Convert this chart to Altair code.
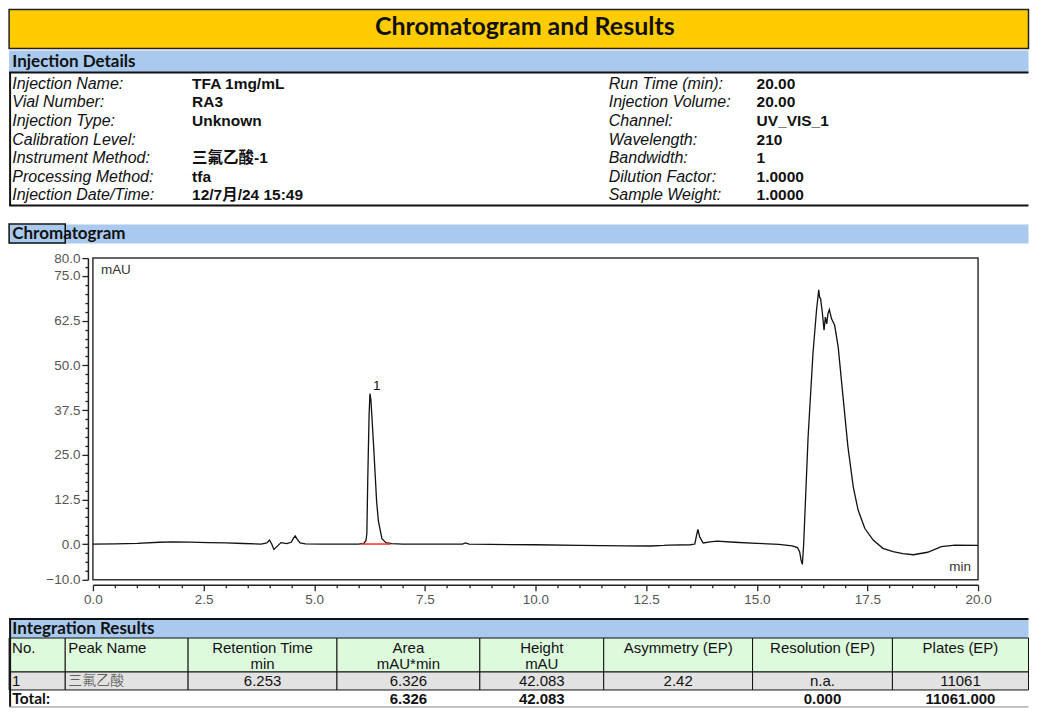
import altair as alt
import pandas as pd

# ---------------- data ----------------
report_title = "Chromatogram and Results"
section_titles = ["Injection Details", "Chromatogram", "Integration Results"]

detail_labels_left = ["Injection Name:", "Vial Number:", "Injection Type:", "Calibration Level:",
                      "Instrument Method:", "Processing Method:", "Injection Date/Time:"]
detail_values_left = ["TFA 1mg/mL", "RA3", "Unknown", "", "三氟乙酸-1", "tfa", "12/7月/24 15:49"]
detail_labels_right = ["Run Time (min):", "Injection Volume:", "Channel:", "Wavelength:",
                       "Bandwidth:", "Dilution Factor:", "Sample Weight:"]
detail_values_right = ["20.00", "20.00", "UV_VIS_1", "210", "1", "1.0000", "1.0000"]

time_min = [0.0, 0.5, 1.0, 1.5, 1.8, 2.2, 2.6, 3.0, 3.4, 3.8, 3.93, 3.99, 4.04, 4.09, 4.15,
            4.25, 4.38, 4.48, 4.53, 4.57, 4.62, 4.68, 4.8, 5.2, 5.6, 6.0, 6.12, 6.17, 6.19,
            6.21, 6.24, 6.26, 6.28, 6.30, 6.34, 6.375, 6.41, 6.45, 6.53, 6.62, 6.75, 7.0,
            7.5, 8.0, 8.35, 8.42, 8.5, 9.0, 10.0, 11.0, 12.0, 12.6, 12.9, 13.0, 13.5, 13.6,
            13.64, 13.67, 13.71, 13.79, 13.95, 14.1, 14.5, 15.0, 15.5, 15.8, 15.92, 15.97,
            16.0, 16.03, 16.06, 16.16, 16.27, 16.35, 16.40, 16.42, 16.44, 16.48, 16.52,
            16.55, 16.58, 16.61, 16.64, 16.69, 16.76, 16.84, 16.95, 17.06, 17.18, 17.29,
            17.44, 17.63, 17.85, 18.08, 18.3, 18.54, 18.86, 19.17, 19.48, 20.0]
signal_mau = [0.0, 0.05, 0.2, 0.5, 0.6, 0.55, 0.4, 0.3, 0.15, 0.0, 0.3, 1.1, 0.0, -1.5, -0.8,
              0.4, 0.1, 0.5, 1.6, 2.3, 1.3, 0.3, 0.05, 0.0, 0.0, 0.0, 0.2, 1.0, 3.0,
              18.0, 36.0, 42.1, 40.5, 36.5, 28.0, 20.0, 12.0, 6.5, 1.5, 0.4, 0.1, 0.0,
              0.0, -0.05, 0.0, 0.3, 0.0, -0.1, -0.2, -0.35, -0.5, -0.55, -0.4, -0.3, -0.2, 0.0,
              2.5, 4.1, 2.0, 0.3, 0.6, 0.8, 0.5, 0.2, -0.1, -0.5, -1.0, -2.2,
              -4.5, -5.7, 0.0, 30.0, 53.3, 65.4, 71.1, 69.0, 68.8, 65.0, 59.8,
              63.5, 61.6, 64.5, 65.6, 63.0, 61.2, 55.1, 41.1, 27.2, 16.0, 9.5,
              4.4, 1.1, -1.2, -2.1, -2.7, -3.0, -2.3, -0.7, -0.3, -0.4]

peak_labels = ["1"]
peak_rt = [6.253]
peak_height = [42.083]
peak_base_start = [6.06]
peak_base_end = [6.73]
peak_base_level = [0.0]

x_tick_values = [i * 0.5 for i in range(41)]
y_tick_values = [-10 + i * 2.5 for i in range(37)]

table_headers = ["No.", "Peak Name", "Retention Time\nmin", "Area\nmAU*min", "Height\nmAU",
                 "Asymmetry (EP)", "Resolution (EP)", "Plates (EP)"]
row_no = ["1"]
row_name = ["三氟乙酸"]
row_rt = [6.253]
row_area = [6.326]
row_height = [42.083]
row_asym = [2.42]
row_resolution = ["n.a."]
row_plates = [11061]
total_label = "Total:"
total_area = 6.326
total_height = 42.083
total_resolution = 0.000
total_plates = 11061.000

# ---------------- layout (page pixels, converted to plot-relative) ----------------
X0, Y0 = 92.7, 257.7
PW, PH = 886, 322
L, R = 8.8, 1029.2
BLUE = "#A9C9EE"
YELLOW = "#FFCC00"
GREEN = "#DDFADD"
GREY = "#E2E2E2"


def X(v):
    return v - X0


def Y(v):
    return v - Y0


cb = [L, 65, 188, 337, 480, 604, 753, 893, R]
BAND_T = 619
HDR_T, HDR_B = 638, 672
ROW_B = 690
TOT_B = 707

rects = []


def add_rect(x1, y1, x2, y2, fill, stroke="transparent", sw=0.0):
    rects.append(dict(x=X(x1), x2=X(x2), y=Y(y1), y2=Y(y2), fill=fill, stroke=stroke, sw=sw))


add_rect(L, 8.8, R, 48, YELLOW, "#222222", 1.5)
add_rect(L, 50, R, 72, BLUE)
add_rect(L, 224, R, 243, BLUE)
add_rect(L, 223.5, 65, 242.5, "transparent", "#111111", 1.5)
add_rect(L, BAND_T, R, HDR_T, BLUE)
for i in range(8):
    add_rect(cb[i], HDR_T, cb[i + 1], HDR_B, GREEN, "#111111", 1.0)
    add_rect(cb[i], HDR_B, cb[i + 1], ROW_B, GREY, "#111111", 1.0)
rect_df = pd.DataFrame(rects)

rules = []


def add_rule(x1, y1, x2, y2, color, sw):
    rules.append(dict(x=X(x1), x2=X(x2), y=Y(y1), y2=Y(y2), color=color, sw=sw))


add_rule(L, 72, R, 72, "#111111", 2)
add_rule(L + 1, 72, L + 1, 205, "#111111", 2)
add_rule(L, 205, R, 205, "#111111", 2)
add_rule(L, BAND_T, R, BAND_T, "#111111", 2)
add_rule(L + 1, BAND_T, L + 1, TOT_B, "#111111", 2)
add_rule(L, TOT_B, R, TOT_B, "#888888", 1)
rule_df = pd.DataFrame(rules)

px = alt.X("x:Q", scale=None, axis=None)
py = alt.Y("y:Q", scale=None, axis=None)


def text_layer(rows, **kw):
    df = pd.DataFrame(rows, columns=["x", "y", "text"])
    return alt.Chart(df).mark_text(baseline="middle", **kw).encode(x=px, y=py, text="text:N")


# ---------------- chromatogram ----------------
trace_df = pd.DataFrame({"t": time_min, "v": signal_mau})
x_axis = alt.Axis(
    values=x_tick_values, title=None, grid=False, offset=5,
    labelExpr="datum.value % 2.5 == 0 ? format(datum.value, '.1f') : ''",
    labelOverlap=False, labelFlush=False, labelFont="Liberation Sans", labelFontSize=13.5,
    labelColor="#555", labelPadding=2,
    tickSize={"condition": {"test": "datum.value % 2.5 == 0", "value": 6}, "value": 3},
    tickColor="#222", tickWidth=1.3, domainColor="#222", domainWidth=1.5,
)
y_axis = alt.Axis(
    values=y_tick_values, title=None, grid=False, offset=5,
    labelExpr="(datum.value % 12.5 == 0 || datum.value == -10 || datum.value == 80) ? format(datum.value, '.1f') : ''",
    labelOverlap=False, labelFlush=False, labelFont="Liberation Sans", labelFontSize=13.5,
    labelColor="#555", labelPadding=2,
    tickSize={"condition": {"test": "datum.value % 12.5 == 0 || datum.value == -10 || datum.value == 80", "value": 6}, "value": 3},
    tickColor="#222", tickWidth=1.3, domainColor="#222", domainWidth=1.5,
)
xs = alt.Scale(domain=[0, 20], nice=False, zero=False)
ys = alt.Scale(domain=[-10, 80], nice=False, zero=False)
cx = lambda f: alt.X(f, scale=xs, axis=x_axis)
cy = lambda f: alt.Y(f, scale=ys, axis=y_axis)

line = alt.Chart(trace_df).mark_line(color="#111", strokeWidth=1.3).encode(
    x=cx("t:Q"), y=cy("v:Q"))

base_df = pd.DataFrame({"s": peak_base_start, "e": peak_base_end, "b": peak_base_level})
baseline = alt.Chart(base_df).mark_rule(color="#FF2A2A", strokeWidth=1.5).encode(
    x=cx("s:Q"), x2="e:Q", y=cy("b:Q"))

lab_df = pd.DataFrame({"t": peak_rt, "v": peak_height, "label": peak_labels})
peak_lab = alt.Chart(lab_df).mark_text(dx=7, dy=-8, font="Liberation Sans", fontSize=13.5,
                                       color="#111").encode(
    x=cx("t:Q"), y=cy("v:Q"), text="label:N")

unit_df = pd.DataFrame({"text": ["mAU"]})
mau = alt.Chart(unit_df).mark_text(align="left", baseline="middle", font="Liberation Sans",
                                   fontSize=13.5, color="#333").encode(
    x=alt.value(8), y=alt.value(12), text="text:N")
min_df = pd.DataFrame({"text": ["min"]})
mint = alt.Chart(min_df).mark_text(align="right", baseline="middle", font="Liberation Sans",
                                   fontSize=13.5, color="#333").encode(
    x=alt.value(PW - 7), y=alt.value(PH - 13), text="text:N")

layers = [line, baseline, peak_lab, mau, mint]

# ---------------- report frame ----------------
layers.append(
    alt.Chart(rect_df).mark_rect().encode(
        x=px, x2="x2:Q", y=py, y2="y2:Q",
        fill=alt.Fill("fill:N", scale=None),
        stroke=alt.Stroke("stroke:N", scale=None),
        strokeWidth=alt.StrokeWidth("sw:Q", scale=None),
    )
)
layers.append(
    alt.Chart(rule_df).mark_rule().encode(
        x=px, x2="x2:Q", y=py, y2="y2:Q",
        color=alt.Color("color:N", scale=None),
        strokeWidth=alt.StrokeWidth("sw:Q", scale=None),
    )
)

layers.append(text_layer([(X(525), Y(26), report_title)],
                         align="center", font="Lato", fontSize=25, fontWeight="bold", color="#111"))
sec_y = [61.5, 234, (BAND_T + HDR_T) / 2 + 0.5]
layers.append(text_layer([(X(12), Y(sec_y[i]), s) for i, s in enumerate(section_titles)],
                         align="left", font="Lato", fontSize=17, fontWeight="bold", color="#111"))

row_y = [83 + i * 18.67 for i in range(7)]
layers.append(text_layer([(X(12), Y(row_y[i]), s) for i, s in enumerate(detail_labels_left)]
                         + [(X(609), Y(row_y[i]), s) for i, s in enumerate(detail_labels_right)],
                         align="left", font="Liberation Sans", fontSize=16, fontStyle="italic",
                         color="#111"))
layers.append(text_layer([(X(192), Y(row_y[i]), s) for i, s in enumerate(detail_values_left)]
                         + [(X(757), Y(row_y[i]), s) for i, s in enumerate(detail_values_right)],
                         align="left", font="Liberation Sans, Noto Sans CJK SC", fontSize=15.5,
                         fontWeight="bold", color="#111"))

centers = [(cb[i] + cb[i + 1]) / 2 for i in range(8)]
hdr_top = Y(HDR_T + 3)
left_hdr = [(X(cb[i] + 3), hdr_top, table_headers[i]) for i in range(2)]
ctr_hdr = [(X(centers[i]), hdr_top, table_headers[i]) for i in range(2, 8)]
for rows, al in ((left_hdr, "left"), (ctr_hdr, "center")):
    df = pd.DataFrame(rows, columns=["x", "y", "text"])
    layers.append(alt.Chart(df).mark_text(baseline="top", align=al, lineBreak="\n", lineHeight=16,
                                          font="Liberation Sans", fontSize=15, color="#111")
                  .encode(x=px, y=py, text="text:N"))

ry = Y((HDR_B + ROW_B) / 2 + 0.5)
data_rows_left = []
data_rows_ctr = []
data_rows_cjk = []
for k in range(len(row_no)):
    data_rows_left.append((X(cb[0] + 3), ry, row_no[k]))
    data_rows_cjk.append((X(cb[1] + 3), ry, row_name[k]))
    vals = [f"{row_rt[k]:.3f}", f"{row_area[k]:.3f}", f"{row_height[k]:.3f}",
            f"{row_asym[k]:.2f}", row_resolution[k], f"{row_plates[k]}"]
    for j, v in enumerate(vals):
        data_rows_ctr.append((X(centers[j + 2]), ry, v))
layers.append(text_layer(data_rows_left, align="left", font="Liberation Sans", fontSize=15, color="#111"))
layers.append(text_layer(data_rows_cjk, align="left", font="Noto Sans CJK SC", fontSize=14,
                         fontWeight=300, color="#444"))
layers.append(text_layer(data_rows_ctr, align="center", font="Liberation Sans", fontSize=15, color="#111"))

ty = Y((ROW_B + TOT_B) / 2 + 0.5)
layers.append(text_layer([(X(12), ty, total_label)], align="left", font="Lato", fontSize=15.5,
                         fontWeight="bold", color="#111"))
tot_vals = [(3, f"{total_area:.3f}"), (4, f"{total_height:.3f}"),
            (6, f"{total_resolution:.3f}"), (7, f"{total_plates:.3f}")]
layers.append(text_layer([(X(centers[c]), ty, v) for c, v in tot_vals], align="center",
                         font="Liberation Sans", fontSize=15, fontWeight="bold", color="#111"))

chart = alt.layer(*layers).properties(
    width=PW, height=PH, padding=0, background="white"
).configure_view(stroke="#333", strokeWidth=1.5)

chart.save("out.html", embed_options={"renderer": "svg", "actions": False})
